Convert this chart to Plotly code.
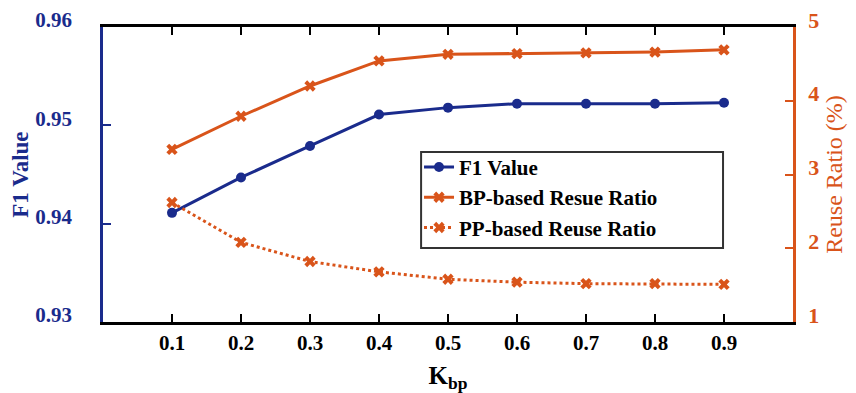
import plotly.graph_objects as go

k_values = [0.1, 0.2, 0.3, 0.4, 0.5, 0.6, 0.7, 0.8, 0.9]
f1_values = [0.9411, 0.9447, 0.9479, 0.9511, 0.9518, 0.9522, 0.9522, 0.9522, 0.9523]
bp_reuse = [3.34, 3.79, 4.20, 4.54, 4.63, 4.64, 4.65, 4.66, 4.69]
pp_reuse = [2.62, 2.08, 1.82, 1.68, 1.58, 1.54, 1.52, 1.52, 1.51]
x_ticks = [0.1, 0.2, 0.3, 0.4, 0.5, 0.6, 0.7, 0.8, 0.9]
x_tick_text = ["0.1", "0.2", "0.3", "0.4", "0.5", "0.6", "0.7", "0.8", "0.9"]
left_ticks = [0.93, 0.94, 0.95, 0.96]
right_ticks = [1, 2, 3, 4, 5]

BLUE = "#1a2b8c"
ORANGE = "#d9541a"
FONT = "Liberation Serif"

fig = go.Figure()
fig.add_trace(go.Scatter(x=k_values, y=f1_values, name="<b>F1 Value</b>", mode="lines+markers",
                         line=dict(color=BLUE, width=3), marker=dict(symbol="circle", size=10, color=BLUE),
                         yaxis="y"))
fig.add_trace(go.Scatter(x=k_values, y=bp_reuse, name="<b>BP-based Resue Ratio</b>", mode="lines+markers",
                         line=dict(color=ORANGE, width=3), marker=dict(symbol="x", size=10, color=ORANGE),
                         yaxis="y2"))
fig.add_trace(go.Scatter(x=k_values, y=pp_reuse, name="<b>PP-based Reuse Ratio</b>", mode="lines+markers",
                         line=dict(color=ORANGE, width=3, dash="dot"), marker=dict(symbol="x", size=10, color=ORANGE),
                         yaxis="y2"))

# legend frame
fig.add_shape(type="rect", xref="paper", yref="paper", x0=0.461, x1=0.8986, y0=0.2508, y1=0.5763,
              line=dict(color="#333333", width=2), fillcolor="white", layer="above")

# left axis title
fig.add_annotation(text="<b>F1 Value</b>", xref="paper", yref="paper", x=-0.12, y=0.5,
                   xanchor="center", yanchor="middle", textangle=-90, showarrow=False,
                   font=dict(family=FONT, size=23, color=BLUE))

# page body has an 8px margin, so the figure is drawn at 848x385 offset by 8px
fig.update_layout(
    width=848, height=385,
    margin=dict(l=95, r=63, t=19, b=71, autoexpand=False),
    plot_bgcolor="white", paper_bgcolor="white",
    font=dict(family=FONT, size=21, color="black"),
    xaxis=dict(range=[0, 1], tickvals=x_ticks, ticktext=x_tick_text, ticks="inside", ticklen=8, tickwidth=2,
               tickcolor="black", showline=True, linecolor="black", linewidth=2.5, mirror="ticks",
               showgrid=False, zeroline=False, automargin=False, ticklabeloverflow="allow",
               tickfont=dict(family=FONT, size=21, color="black", weight="bold"),
               title=dict(text="<b>K<sub>bp</sub></b>", font=dict(family=FONT, size=25, color="black"), standoff=14)),
    yaxis=dict(range=[0.93, 0.96], tickvals=left_ticks, tickformat=".2f", ticks="inside", ticklen=8, tickwidth=2,
               tickcolor=BLUE, showline=True, linecolor=BLUE, linewidth=2.5, showgrid=False, zeroline=False,
               automargin=False, ticklabeloverflow="allow",
               tickfont=dict(family=FONT, size=21, color=BLUE, weight="bold"), ticklabelshift=-7,
               ticklabelstandoff=24),
    yaxis2=dict(range=[1, 5], tickvals=right_ticks, overlaying="y", side="right", ticks="inside", ticklen=8,
                tickwidth=2, tickcolor=ORANGE, showline=True, linecolor=ORANGE, linewidth=2.5, showgrid=False,
                zeroline=False, automargin=False, ticklabeloverflow="allow",
                tickfont=dict(family=FONT, size=22, color=ORANGE, weight="bold"),
                ticklabelshift=-7, ticklabelstandoff=8,
                title=dict(text="Reuse Ratio (%)", font=dict(family=FONT, size=24, color=ORANGE), standoff=8)),
    legend=dict(x=0.458, y=0.594, xanchor="left", yanchor="top", bgcolor="rgba(0,0,0,0)",
                borderwidth=0, font=dict(family=FONT, size=21, color="black"), itemwidth=30),
    showlegend=True,
)

fig.write_html("out.html")
